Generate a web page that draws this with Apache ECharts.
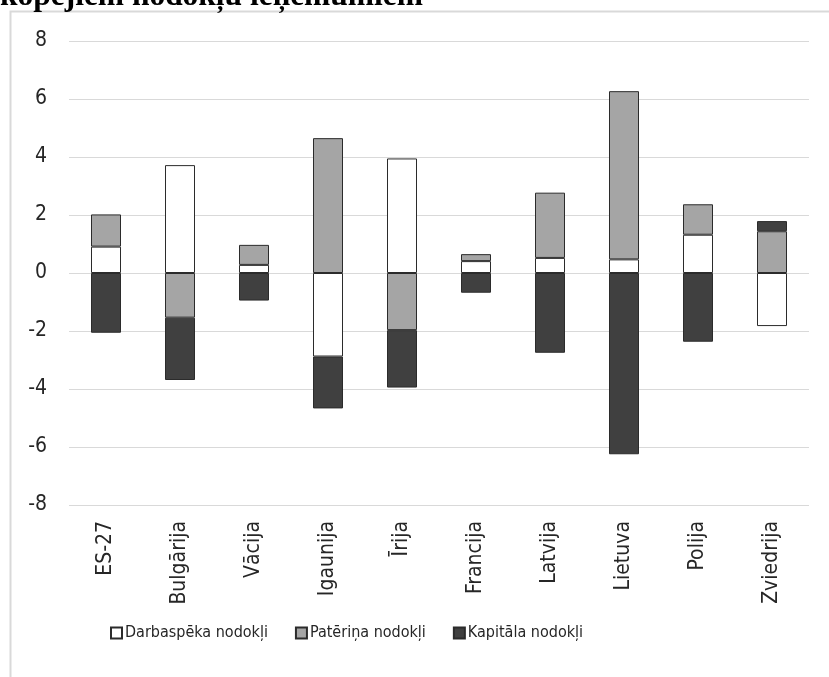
<!DOCTYPE html>
<html>
<head>
<meta charset="utf-8">
<script src="https://cdn.jsdelivr.net/npm/echarts@6/dist/echarts.min.js"></script>
<style>
  html, body { margin: 0; padding: 0; background: #fff; }
  #chart { width: 829px; height: 677px; }
</style>
</head>
<body>
<div id="chart"></div>
<script>
// Tax-burden shift by tax type, percentage points
const categories = ['ES-27', 'Bulgārija', 'Vācija', 'Igaunija', 'Īrija', 'Francija', 'Latvija', 'Lietuva', 'Polija', 'Zviedrija'];
const labourTax      = [0.91, 3.72, 0.28, -2.88, 3.95, 0.41, 0.52, 0.47, 1.32, -1.83];
const consumptionTax = [1.11, -1.54, 0.69, 4.65, -1.97, 0.24, 2.25, 5.80, 1.05, 1.44];
const capitalTax     = [-2.06, -2.15, -0.95, -1.79, -1.98, -0.68, -2.75, -6.25, -2.37, 0.35];
const seriesNames = ['Darbaspēka nodokļi', 'Patēriņa nodokļi', 'Kapitāla nodokļi'];
const yTicks = { min: -8, max: 8, step: 2 };
const titleText = 'kopējiem nodokļu ieņēmumiem';

const chart = echarts.init(document.getElementById('chart'), null, { renderer: 'canvas' });

const FONT = '"Liberation Sans Narrow", "DejaVu Sans Condensed", "Open Sans", sans-serif';
const fills = ['#ffffff', '#a5a5a5', '#404040'];
const edge = '#2b2b2b';

// size the heading so it spans the same width as in the report page
const ctx = document.createElement('canvas').getContext('2d');
ctx.font = 'bold 100px "Liberation Serif"';
const titleSize = 100 * 423 / ctx.measureText(titleText).width;

function makeSeries(name, data, i) {
  return {
    name: name,
    type: 'bar',
    stack: 'total',
    stackStrategy: 'samesign',
    barWidth: 30,
    data: data,
    itemStyle: { color: fills[i], borderColor: edge, borderWidth: 1 },
    emphasis: { disabled: true }
  };
}

chart.setOption({
  animation: false,
  backgroundColor: '#ffffff',
  graphic: [
    {
      type: 'rect',
      shape: { x: 10.5, y: 11.5, width: 840, height: 700 },
      style: { fill: 'none', stroke: '#d9d9d9', lineWidth: 2 },
      silent: true,
      z: 0
    },
    {
      type: 'text',
      x: 0,
      y: 7 - titleSize * 0.33,
      style: {
        text: titleText,
        font: 'bold ' + titleSize.toFixed(2) + 'px "Liberation Serif"',
        fill: '#000',
        align: 'left',
        verticalAlign: 'middle'
      },
      silent: true,
      z: 10
    }
  ],
  legend: {
    data: seriesNames,
    top: 620,
    left: 105,
    icon: 'rect',
    itemWidth: 11,
    itemHeight: 11,
    itemGap: 27,
    textStyle: { fontFamily: FONT, fontSize: 16, color: '#262626', padding: [0, 0, 0, -2] }
  },
  grid: { left: 69, right: 20, top: 41, bottom: 172, containLabel: false },
  xAxis: {
    type: 'category',
    data: categories,
    axisLine: { show: false, onZero: false },
    axisTick: { show: false },
    axisLabel: {
      rotate: 90,
      margin: 16,
      fontFamily: FONT,
      fontSize: 21,
      color: '#262626'
    },
    splitLine: { show: false }
  },
  yAxis: {
    type: 'value',
    min: yTicks.min,
    max: yTicks.max,
    interval: yTicks.step,
    axisLine: { show: false },
    axisTick: { show: false },
    axisLabel: { margin: 22, fontFamily: FONT, fontSize: 21, color: '#262626' },
    splitLine: { lineStyle: { color: '#d9d9d9', width: 1 } }
  },
  series: [
    makeSeries(seriesNames[0], labourTax, 0),
    makeSeries(seriesNames[1], consumptionTax, 1),
    makeSeries(seriesNames[2], capitalTax, 2)
  ]
});
</script>
</body>
</html>
